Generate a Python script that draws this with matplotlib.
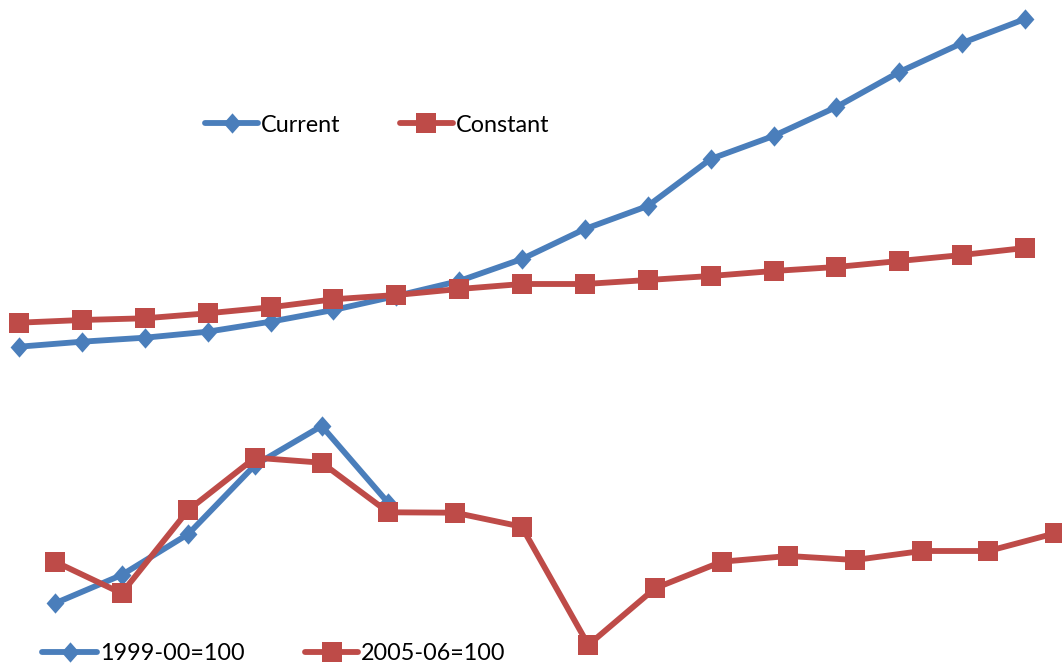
import matplotlib
matplotlib.use("Agg")
import matplotlib.pyplot as plt
from matplotlib.lines import Line2D

# Upper panel: price series (arbitrary units)
years_top = list(range(17))
current = [53.3, 58.3, 62.3, 68.3, 78.3, 90.0, 104.0, 119.0, 141.0, 171.0,
           194.0, 241.0, 264.0, 293.0, 328.0, 357.0, 381.0]
constant = [77.3, 80.0, 81.7, 86.7, 92.7, 100.7, 105.0, 111.0, 116.0, 116.0,
            120.0, 124.0, 129.0, 133.0, 139.0, 145.0, 152.0]

# Lower panel: growth under two base years
years_bottom = list(range(16))
base_1999 = [96.7, 125.0, 166.0, 235.0, 274.0, 197.0]
base_2005 = [138.3, 106.7, 190.0, 242.3, 237.3, 187.7, 187.3, 173.3, 55.0,
             111.7, 138.3, 144.0, 140.0, 149.0, 149.0, 166.7]

top_labels = ["Current", "Constant"]
bottom_labels = ["1999-00=100", "2005-06=100"]

BLUE = "#4A7EBB"
RED = "#BE4B48"
W, H = 1062, 669
LW = 4.2
SQ = 14.2
DI = 14.6
# slightly narrow diamond marker
DIAMOND = [(0, 1), (0.88, 0), (0, -1), (-0.88, 0), (0, 1)]
MK = dict(mew=0, clip_on=False, solid_joinstyle="round")

fig = plt.figure(figsize=(W / 100, H / 100), dpi=100)
plt.rcParams["font.family"] = ["Lato", "DejaVu Sans"]

# Upper axes spans whole canvas; x step 62.875 px starting at 19 px
ax_top = fig.add_axes([0, 0, 1, 1])
step_t, x0_t = 62.875, 19
ax_top.set_xlim(-x0_t / step_t, (W - x0_t) / step_t)
ax_top.set_ylim(400 - H, 400)
ax_top.plot(years_top, current, color=BLUE, lw=LW, marker=DIAMOND, ms=DI, **MK)
ax_top.plot(years_top, constant, color=RED, lw=LW, marker="s", ms=SQ, **MK)
ax_top.axis("off")

# Lower axes; x step 66.67 px starting at 55 px
ax_bot = fig.add_axes([0, 0, 1, 1])
step_b, x0_b = 66.67, 55
ax_bot.set_xlim(-x0_b / step_b, (W - x0_b) / step_b)
ax_bot.set_ylim(700 - H, 700)
ax_bot.plot(years_bottom[:len(base_1999)], base_1999, color=BLUE, lw=LW,
            marker=DIAMOND, ms=DI, **MK)
ax_bot.plot(years_bottom, base_2005, color=RED, lw=LW, marker="s", ms=SQ, **MK)
ax_bot.axis("off")
ax_bot.patch.set_alpha(0)


def legend_entry(x_start, x_end, y, color, marker, ms, text):
    tr = fig.transFigure
    yf = 1 - y / H
    fig.add_artist(Line2D([x_start / W, x_end / W], [yf, yf], transform=tr,
                          color=color, lw=LW, solid_capstyle="round"))
    fig.add_artist(Line2D([(x_start + x_end) / 2 / W], [yf], transform=tr,
                          color=color, marker=marker, ms=ms, mew=0, lw=0))
    fig.text((x_end + 3) / W, yf, text, ha="left", va="center_baseline",
             fontsize=16.8, color="black")


legend_entry(205, 258, 123, BLUE, DIAMOND, DI, top_labels[0])
legend_entry(400, 453, 123, RED, "s", SQ, top_labels[1])
legend_entry(42, 97, 652, BLUE, DIAMOND, DI, bottom_labels[0])
legend_entry(305, 358, 652, RED, "s", SQ, bottom_labels[1])

fig.savefig("out.png", dpi=100)
